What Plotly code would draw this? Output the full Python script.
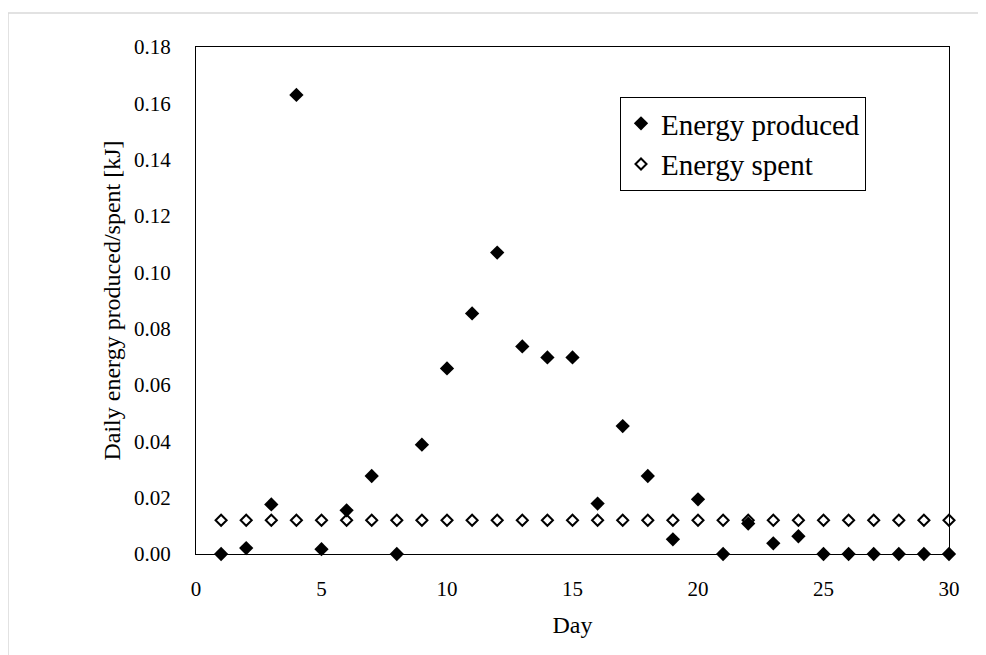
import plotly.graph_objects as go

days = list(range(1, 31))
energy_produced = [0.0, 0.0021, 0.0176, 0.163, 0.0017, 0.0155, 0.0277, 0.0, 0.0388, 0.0659,
                   0.0854, 0.107, 0.0737, 0.0698, 0.0698, 0.0179, 0.0454, 0.0277, 0.0052, 0.0194,
                   0.0, 0.0108, 0.0038, 0.0063, 0.0, 0.0, 0.0, 0.0, 0.0, 0.0]
energy_spent = [0.012] * 30
y_ticks = [0.00, 0.02, 0.04, 0.06, 0.08, 0.10, 0.12, 0.14, 0.16, 0.18]
x_ticks = [0, 5, 10, 15, 20, 25, 30]

FONT = "Liberation Serif"

fig = go.Figure()
fig.add_trace(go.Scatter(
    x=days, y=energy_produced, mode="markers", name="Energy produced",
    legendgroup="a",
    marker=dict(symbol="diamond", size=11, color="black", line=dict(width=0)),
    cliponaxis=False,
))
fig.add_trace(go.Scatter(
    x=days, y=energy_spent, mode="markers", name="Energy spent",
    legendgroup="b",
    marker=dict(symbol="diamond-open", size=8.5, color="black", line=dict(width=2)),
    cliponaxis=False,
))

W, H = 978, 647
L, R, T, B = 188, 37, 39, 101
pw, ph = W - L - R, H - T - B
plot_bottom = H - B  # in figure pixels

fig.update_layout(
    width=W, height=H,
    margin=dict(l=L, r=R, t=T, b=B),
    paper_bgcolor="white", plot_bgcolor="white",
    font=dict(family=FONT, color="black", size=21),
    showlegend=True,
    legend=dict(
        x=(612 - L) / pw, y=(plot_bottom - 89) / ph, xanchor="left", yanchor="top",
        bordercolor="black", borderwidth=1, bgcolor="white",
        font=dict(family=FONT, size=29),
        tracegroupgap=0, itemsizing="trace",
    ),
    shapes=[dict(
        type="rect", xref="paper", yref="paper",
        x0=(0 - L) / pw, x1=(1000 - L) / pw,
        y0=(plot_bottom - 700) / ph, y1=(plot_bottom - 5) / ph,
        line=dict(color="#d9d9d9", width=1.5), layer="below",
    )],
)
fig.update_xaxes(
    range=[0, 30], tickvals=x_ticks, ticktext=[str(v) for v in x_ticks],
    showline=True, linecolor="black", linewidth=1, mirror=True,
    showgrid=False, zeroline=False, ticks="", ticklabelstandoff=16,
    title=dict(text="Day", font=dict(family=FONT, size=24), standoff=15),
)
fig.update_yaxes(
    range=[0, 0.18], tickvals=y_ticks, ticktext=[f"{v:.2f}" for v in y_ticks],
    showline=True, linecolor="black", linewidth=1, mirror=True,
    showgrid=False, zeroline=False, ticks="", ticklabelstandoff=20,
    title=dict(text="Daily energy produced/spent [kJ]", font=dict(family=FONT, size=24), standoff=6),
)

fig.write_html("out.html")
